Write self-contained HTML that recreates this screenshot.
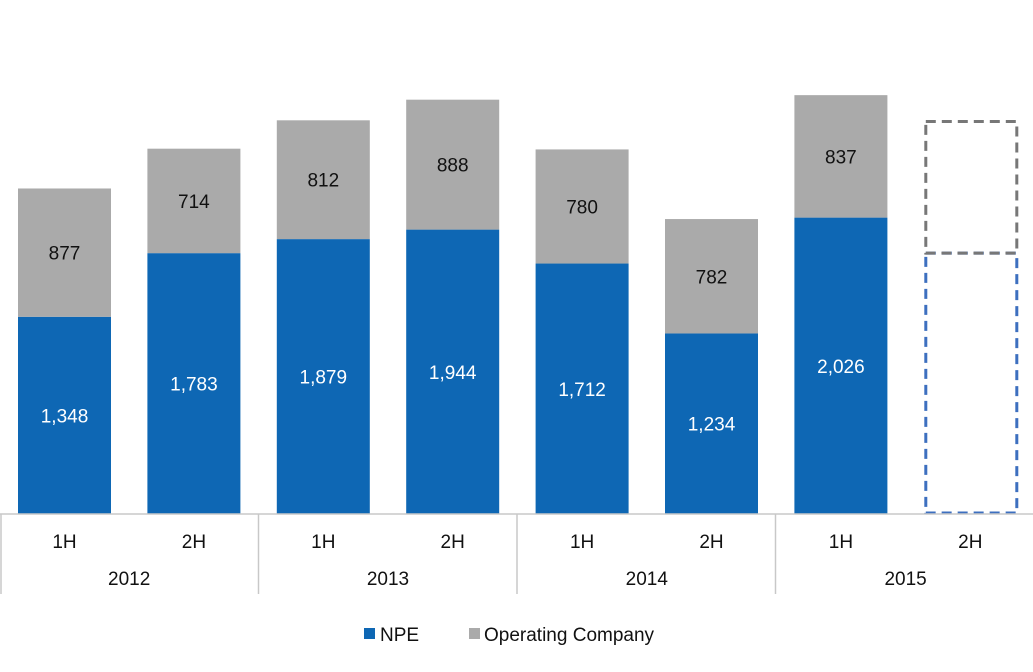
<!DOCTYPE html>
<html><head><meta charset="utf-8"><style>
body{margin:0;background:#fff;font-family:"Liberation Sans",Arial,sans-serif}
</style></head><body>
<svg id="chart" width="1033" height="667" xmlns="http://www.w3.org/2000/svg" font-family="Liberation Sans, Arial, sans-serif">
<g id="bars"></g>
<g id="axis"></g>
<g>
<rect x="364" y="628" width="11" height="11" fill="#0e67b4"/>
<text x="380" y="641" font-size="19" fill="#111">NPE</text>
<rect x="469" y="628" width="11" height="11" fill="#aaaaaa"/>
<text x="484" y="641" font-size="19" fill="#111">Operating Company</text>
</g>
</svg>
<script>
const halves=["1H","2H","1H","2H","1H","2H","1H","2H"];
const years=["2012","2013","2014","2015"];
const npe=[1348,1783,1879,1944,1712,1234,2026,null];
const opco=[877,714,812,888,780,782,837,null];
const projNpe=1783;
const projOpco=900;
const NS="http://www.w3.org/2000/svg";
const base=514, scale=0.1463, x0=18, step=129.4, bw=93;
const y=v=>base-v*scale;
const xb=i=>x0+i*step;
function mk(tag,attrs,parent){const e=document.createElementNS(NS,tag);for(const k in attrs)e.setAttribute(k,attrs[k]);parent.appendChild(e);return e;}
const bars=document.getElementById('bars'), axis=document.getElementById('axis');
const fmt=v=>v.toLocaleString('en-US');
npe.forEach((v,i)=>{
  const x=xb(i);
  if(v===null){
    const b=mk('rect',{x:x+2,y:y(projNpe),width:bw-2,height:base-y(projNpe)-1,fill:'none',stroke:'#3d6fbf','stroke-width':3,'stroke-dasharray':'10,6'},bars);
    
    
    const g=mk('rect',{x:x+2,y:y(projNpe+projOpco),width:bw-2,height:projOpco*scale,fill:'none',stroke:'#777','stroke-width':3,'stroke-dasharray':'10,6'},bars);
    
    
    return;
  }
  const r=mk('rect',{x:x,y:y(v),width:bw,height:v*scale,fill:'#0e67b4'},bars);
  
  
  const o=opco[i];
  const r2=mk('rect',{x:x,y:y(v+o),width:bw,height:o*scale,fill:'#aaaaaa'},bars);
  
  
  const t=mk('text',{x:x+bw/2,y:(y(v)+base)/2+7,'text-anchor':'middle','font-size':19,fill:'#fff'},bars);
  t.textContent=fmt(v);
  
  
  const t2=mk('text',{x:x+bw/2,y:(y(v)+y(v+o))/2+7,'text-anchor':'middle','font-size':19,fill:'#111'},bars);
  t2.textContent=fmt(o);
  
  
});
const al=mk('line',{x1:0,y1:base,x2:1033,y2:base,stroke:'#c8c8c8','stroke-width':1.5},axis);


[1,258.5,517,775.5].forEach(xx=>{
  const l=mk('line',{x1:xx,y1:base,x2:xx,y2:594,stroke:'#c8c8c8','stroke-width':1.5},axis);
  
  
});
halves.forEach((h,i)=>{
  const t=mk('text',{x:xb(i)+bw/2,y:548,'text-anchor':'middle','font-size':19,fill:'#111'},axis);
  t.textContent=h;
  
  
});
years.forEach((yr,j)=>{
  const t=mk('text',{x:(xb(2*j)+xb(2*j+1)+bw)/2,y:585,'text-anchor':'middle','font-size':19,fill:'#111'},axis);
  t.textContent=yr;
  
  
});
</script>
</body></html>
